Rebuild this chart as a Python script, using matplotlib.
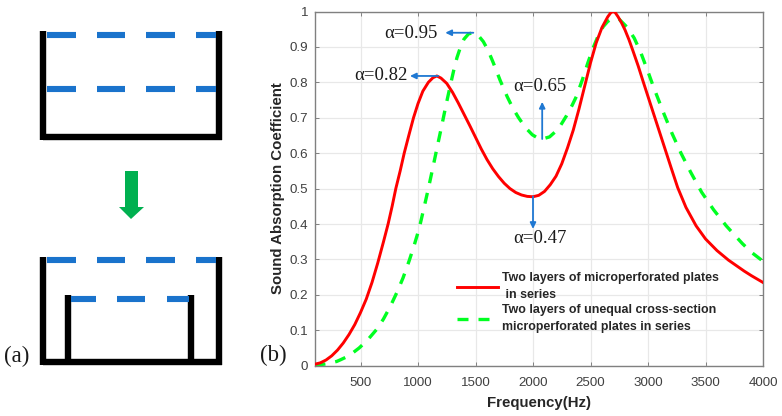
#!/usr/bin/env python3
"""Sound absorption of two MPP layouts: schematic (a) and curves (b)."""

import matplotlib
matplotlib.use("Agg")
import matplotlib.pyplot as plt
import matplotlib.ticker as ticker

# measured curves
red_freq = [100, 150, 200, 250, 300, 350, 400, 450, 500, 550, 600, 650, 700, 740, 775, 807,
            845, 880, 920, 961, 1000, 1042, 1090, 1130, 1164, 1200, 1250, 1300, 1350, 1400,
            1450, 1500, 1550, 1600, 1650, 1700, 1750, 1800, 1850, 1900, 1950, 2000, 2050,
            2100, 2150, 2200, 2250, 2300, 2350, 2400, 2450, 2500, 2550, 2600, 2650, 2675, 2695,
            2715, 2740, 2770, 2800, 2835, 2868, 2915, 2960, 3060, 3160, 3200, 3258, 3330, 3418,
            3500, 3600, 3700, 3837, 3900, 4000]
red_alpha = [.004, .008, .016, .028, .044, .064, .088, .116, .15, .188, .235, .29, .35, .4, .45, .5,
             .55, .6, .65, .7, .74, .775, .8, .813, .818, .812, .797, .772, .742, .71,
             .678, .645, .612, .582, .556, .534, .515, .5, .489, .482, .478, .477, .481,
             .492, .511, .535, .57, .615, .665, .725, .79, .855, .912, .955, .985, .996, 1.0,
             .997, .985, .968, .948, .92, .89, .846, .8, .7, .6, .56, .503, .447, .395,
             .358, .325, .298, .267, .254, .235]
green_freq = [100, 200, 293, 328, 400, 488, 560, 647, 700, 760, 821, 870, 923, 965, 1010, 1048,
              1090, 1133, 1170, 1208, 1245, 1280, 1310, 1339, 1370, 1400, 1440, 1481, 1525,
              1568, 1610, 1655, 1715, 1775, 1825, 1875, 1935, 1994, 2040, 2081, 2144, 2220,
              2290, 2340, 2377, 2430, 2477, 2520, 2565, 2610, 2650, 2695, 2750, 2820, 2880, 2935,
              3000, 3050, 3140, 3210, 3287, 3370, 3466, 3571, 3680, 3820, 3900, 4000]
green_alpha = [.001, .005, .012, .017, .028, .05, .072, .105, .132, .168, .21, .248, .296, .338, .387, .44,
               .5, .565, .622, .68, .738, .79, .833, .87, .9, .922, .937, .94, .932,
               .915, .89, .855, .805, .76, .727, .7, .672, .652, .643, .64, .646, .668,
               .705, .735, .76, .808, .855, .895, .93, .957, .972, .981, .978, .955, .925, .886,
               .83, .785, .71, .655, .6, .547, .49, .44, .395, .345, .32, .295]

red_label = "Two layers of microperforated plates\n in series"
green_label = "Two layers of unequal cross-section\nmicroperforated plates in series"

x_ticks = [500, 1000, 1500, 2000, 2500, 3000, 3500, 4000]
y_ticks = [0, .1, .2, .3, .4, .5, .6, .7, .8, .9, 1]
y_tick_labels = ["0", "0.1", "0.2", "0.3", "0.4", "0.5", "0.6", "0.7", "0.8", "0.9", "1"]

# callouts: label, label centre, arrow tail, arrow head (freq, alpha)
callouts = [
    ("α=0.95", (939, .937), (1481, .94), (1237, .94)),
    ("α=0.82", (680, .818), (1176, .818), (930, .818)),
    ("α=0.65", (2063, .787), (2080, .64), (2080, .745)),
    ("α=0.47", (2063, .36), (2000, .478), (2000, .386)),
]

# schematic, in figure pixels
wall_segments = [
    ((43, 31), (43, 140)), ((219, 31), (219, 140)), ((43, 137), (222, 137)),
    ((43, 257), (43, 365)), ((219, 257), (219, 365)), ((43, 362), (222, 362)),
    ((67.5, 295), (67.5, 362)), ((191, 295), (191, 362)),
]
plate_segments = [
    (34.7, [(47, 76), (97, 125), (146, 175), (196, 216)]),
    (88.5, [(47, 76), (97, 125), (146, 175), (196, 216)]),
    (259.5, [(47, 76), (97, 125), (146, 175), (196, 216)]),
    (298.5, [(71, 96), (117, 145), (167, 189)]),
]
green_arrow = [(125, 171), (138, 171), (138, 207), (144, 207), (131, 219), (119, 207), (125, 207)]

plt.rcParams["font.family"] = ["Liberation Sans", "DejaVu Sans"]
SERIF = ["Liberation Serif", "DejaVu Serif"]

fig = plt.figure(figsize=(7.82, 4.16), dpi=100)
ax = fig.add_axes([314.5 / 782, 1 - 365.7 / 416, 448.5 / 782, 354.2 / 416])

ax.plot(red_freq, red_alpha, color="#ff0000", lw=2.1, label=red_label, zorder=3)
ax.plot(green_freq, green_alpha, color="#00ff21", lw=2.4, dashes=(3.3, 3.0),
        label=green_label, zorder=2)

ax.set_xlim(100, 4000)
ax.set_ylim(0, 1)
ax.xaxis.set_major_locator(ticker.FixedLocator(x_ticks))
ax.set_yticks(y_ticks, y_tick_labels)
ax.grid(True, color="#e8e8e8", lw=0.9)
ax.set_axisbelow(True)
ax.tick_params(direction="in", length=3.2, width=0.6, color="#707070", top=True, right=True,
               labelcolor="#404040", labelsize=9.6)
ax.tick_params(axis="x", pad=8)
ax.tick_params(axis="y", pad=4.5)
for spine in ax.spines.values():
    spine.set_color("#808080")
    spine.set_linewidth(1.0)

ax.set_xlabel("Frequency(Hz)", fontweight="bold", fontsize=10.8, color="#262626", labelpad=5)
ax.set_ylabel("Sound Absorption Coefficient", fontweight="bold", fontsize=10.8, color="#262626",
              labelpad=3)

for label, text_pos, tail, head in callouts:
    ax.annotate("", xy=head, xytext=tail,
                arrowprops=dict(arrowstyle="-|>,head_length=0.35,head_width=0.17", color="#1f78d2",
                                lw=1.3, shrinkA=0, shrinkB=0), zorder=5)
    ax.text(*text_pos, label, family=SERIF, fontsize=13.5, color="#1a1a1a",
            ha="center", va="center", zorder=6)

leg = ax.legend(loc="lower left", bbox_to_anchor=(142.5 / 448.5, 33 / 354.2), frameon=False,
                prop=dict(weight="bold", size=8.9), handlelength=3.3, handletextpad=0.35,
                labelspacing=0.3, borderpad=0, borderaxespad=0, labelcolor="#262626")
for t in leg.get_texts():
    t.set_linespacing(1.48)

# overlay in pixel coordinates for the schematic
over = fig.add_axes([0, 0, 1, 1], facecolor="none")
over.set_xlim(0, 782)
over.set_ylim(416, 0)
over.axis("off")
for (x0, y0), (x1, y1) in wall_segments:
    over.plot([x0, x1], [y0, y1], color="black", lw=4.6, solid_capstyle="butt")
for y, spans in plate_segments:
    for x0, x1 in spans:
        over.plot([x0, x1], [y, y], color="#1a73cc", lw=4.4, solid_capstyle="butt")
over.fill(*zip(*green_arrow), color="#00b050", lw=0)
over.text(16.5, 356, "(a)", family=SERIF, fontsize=16.5, color="#1a1a1a", ha="center", va="center")
over.text(273, 355, "(b)", family=SERIF, fontsize=16.5, color="#1a1a1a", ha="center", va="center")

fig.savefig("out.png", dpi=100)
plt.close(fig)
